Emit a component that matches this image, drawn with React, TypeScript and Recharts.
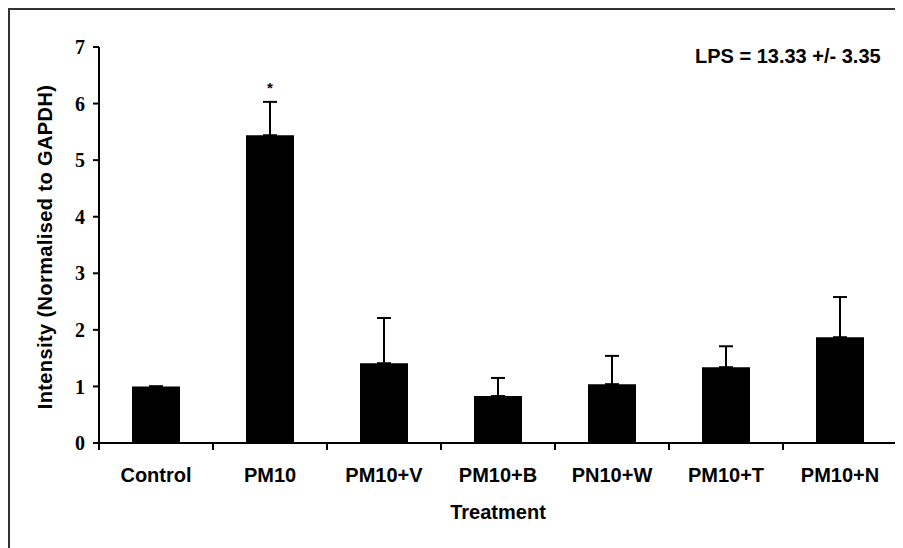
import { BarChart, Bar, XAxis, YAxis, ErrorBar, ReferenceDot } from 'recharts';

const categories = ['Control', 'PM10', 'PM10+V', 'PM10+B', 'PN10+W', 'PM10+T', 'PM10+N'];
const means = [1.0, 5.44, 1.41, 0.83, 1.04, 1.34, 1.87];
const errors = [0, 0.59, 0.8, 0.32, 0.5, 0.37, 0.71];
const yTicks = [0, 1, 2, 3, 4, 5, 6, 7];
const significant = ['PM10'];

const SANS = '"Liberation Sans", Arial, sans-serif';
const SERIF = '"Liberation Serif", "Times New Roman", serif';
const TICK_SIZE = 6;
const TICK_MARGIN = 2;

const data = categories.map((name, i) => ({
  name,
  value: means[i],
  err: [0, errors[i]],
}));

// ticks sit on the category boundaries, labels in the middle
function XTick(props: any) {
  const { x, y, payload, index } = props;
  const half = payload?.offset ?? 57;
  const axisY = y - TICK_SIZE - TICK_MARGIN;
  return (
    <g>
      <line x1={x - half} y1={axisY} x2={x - half} y2={axisY + 7} stroke="#000" strokeWidth={2} />
      {index === categories.length - 1 && (
        <line x1={x + half} y1={axisY} x2={x + half} y2={axisY + 7} stroke="#000" strokeWidth={2} />
      )}
      <text x={x} y={axisY + 39} textAnchor="middle" fill="#000" fontFamily={SANS} fontWeight="bold" fontSize={20}>
        {payload.value}
      </text>
    </g>
  );
}

function YLabel(props: any) {
  const { viewBox } = props;
  const cx = viewBox.x + 13;
  const cy = viewBox.y + viewBox.height / 2 + 2;
  return (
    <text
      x={cx}
      y={cy}
      transform={`rotate(-90, ${cx}, ${cy})`}
      textAnchor="middle"
      fill="#000"
      fontFamily={SANS}
      fontWeight="bold"
      fontSize={20}
      letterSpacing={0.4}
    >
      Intensity (Normalised to GAPDH)
    </text>
  );
}

function XLabel(props: any) {
  const { viewBox } = props;
  return (
    <text
      x={viewBox.x + viewBox.width / 2}
      y={viewBox.y + 76}
      textAnchor="middle"
      fill="#000"
      fontFamily={SANS}
      fontWeight="bold"
      fontSize={20}
    >
      Treatment
    </text>
  );
}

export default function App() {
  return (
    <div
      style={{
        position: 'relative',
        width: 893,
        height: 538,
        borderTop: '2px solid #333',
        borderLeft: '2px solid #333',
        background: '#fff',
      }}
    >
      <style>{'html, body { overflow: hidden; }'}</style>
      <BarChart
        width={893}
        height={538}
        data={data}
        margin={{ top: 37, right: 6, left: 29, bottom: 75 }}
      >
        <XAxis
          dataKey="name"
          interval={0}
          height={30}
          axisLine={{ stroke: '#000', strokeWidth: 2 }}
          tickLine={false}
          tickSize={TICK_SIZE}
          tickMargin={TICK_MARGIN}
          tick={(p: any) => <XTick {...p} />}
          label={(p: any) => <XLabel {...p} />}
        />
        <YAxis
          width={60}
          domain={[0, 7]}
          ticks={yTicks}
          interval={0}
          axisLine={{ stroke: '#000', strokeWidth: 2 }}
          tickLine={{ stroke: '#000', strokeWidth: 2 }}
          tickSize={6}
          tickMargin={8}
          tick={{ fill: '#000', fontFamily: SERIF, fontWeight: 'bold', fontSize: 20 }}
          label={(p: any) => <YLabel {...p} />}
        />
        <Bar dataKey="value" fill="#000" barSize={48} isAnimationActive={false}>
          <ErrorBar dataKey="err" width={7} stroke="#000" strokeWidth={2} direction="y" />
        </Bar>
        {significant.map((name) => {
          const i = categories.indexOf(name);
          return (
            <ReferenceDot
              key={name}
              x={name}
              y={means[i] + errors[i] + 0.25}
              r={0}
              fill="none"
              stroke="none"
              label={{ value: '*', position: 'center', fill: '#000', fontSize: 15, fontWeight: 'bold', fontFamily: SANS }}
            />
          );
        })}
      </BarChart>
      <div
        style={{
          position: 'absolute',
          left: 685,
          top: 36,
          lineHeight: '20px',
          fontFamily: SANS,
          fontWeight: 'bold',
          fontSize: 20,
          color: '#000',
          whiteSpace: 'nowrap',
        }}
      >
        LPS = 13.33 +/- 3.35
      </div>
    </div>
  );
}
